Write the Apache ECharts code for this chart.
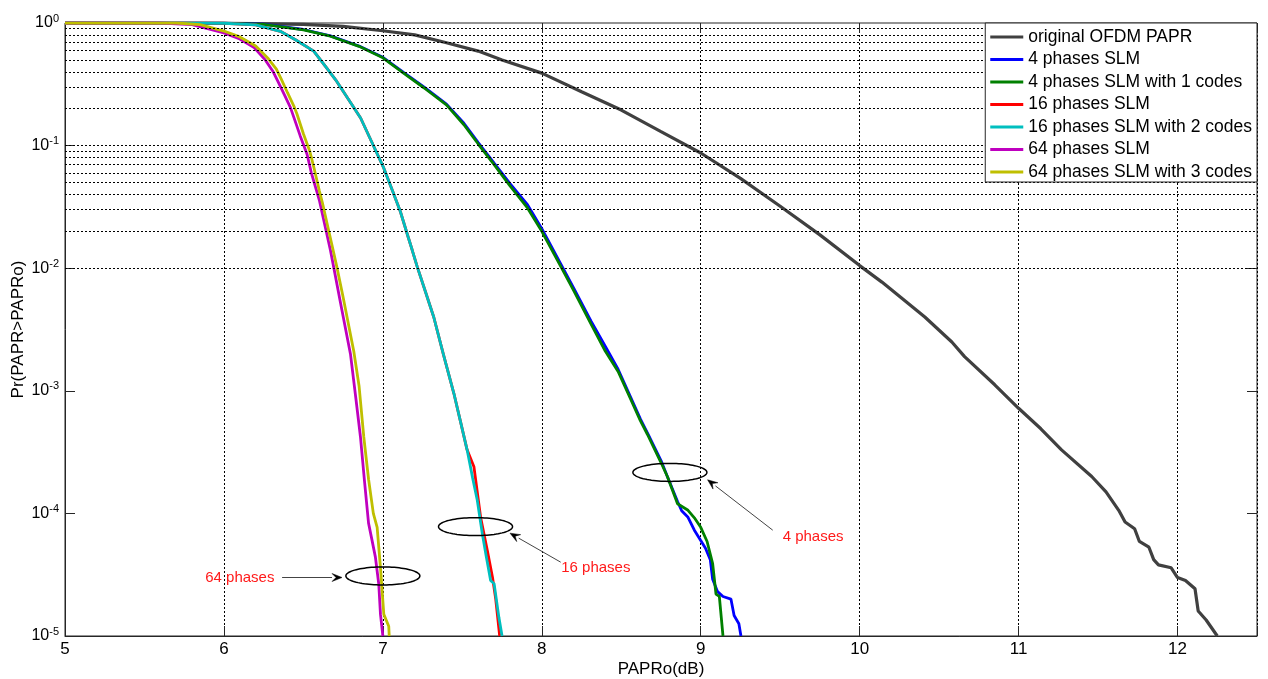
<!DOCTYPE html>
<html>
<head>
<meta charset="utf-8">
<script src="https://cdn.jsdelivr.net/npm/echarts@6/dist/echarts.min.js"></script>
<style>
html,body{margin:0;padding:0;background:#fff;}
#chart{width:1268px;height:679px;}
</style>
</head>
<body>
<div id="chart"></div>
<script>
// ---------- DATA ----------
const seriesNames = [
  'original OFDM PAPR',
  '4 phases SLM',
  '4 phases SLM with 1 codes',
  '16 phases SLM',
  '16 phases SLM with 2 codes',
  '64 phases SLM',
  '64 phases SLM with 3 codes'
];
const seriesColors = ['#404040', '#0000ff', '#008000', '#ff0000', '#00bfbf', '#bf00bf', '#bfbf00'];

const xTicks = [5, 6, 7, 8, 9, 10, 11, 12];
const yDecadeExponents = [-5, -4, -3, -2, -1, 0];
const yGridMantissas = [1, 2, 3, 4, 5, 6, 7, 8, 9];

const originalOFDM = [
  [5,1],[6,0.998],[6.5,0.975],[6.75,0.94],[7.0,0.865],[7.2,0.80],[7.4,0.69],[7.6,0.59],
  [7.75,0.50],[8.0,0.39],[8.25,0.275],[8.5,0.195],[8.75,0.13],[9.0,0.087],[9.25,0.054],
  [9.5,0.032],[9.75,0.0187],[10.0,0.0105],[10.14,0.0077],[10.41,0.0040],[10.58,0.0025],
  [10.66,0.0019],[10.85,0.00112],[11.0,0.00072],[11.14,0.00049],[11.27,0.00033],
  [11.46,0.0002],[11.55,0.00015],[11.63,0.000106],[11.67,0.000085],[11.73,0.000075],
  [11.76,0.000059],[11.82,0.000053],[11.85,0.000042],[11.88,0.000038],[11.96,0.000036],
  [12.0,0.00003],[12.05,0.0000284],[12.11,0.0000243],[12.13,0.000016],[12.18,0.0000135],
  [12.25,0.00001]
];
const fourPhases = [
  [5,1],[6,0.998],[6.25,0.978],[6.5,0.885],[6.67,0.785],[6.85,0.648],[7.0,0.525],[7.13,0.395],
  [7.26,0.30],[7.4,0.218],[7.51,0.152],[7.6,0.106],[7.70,0.072],[7.8,0.049],[7.91,0.033],
  [8.0,0.021],[8.12,0.0108],[8.2,0.0069],[8.31,0.0037],[8.4,0.0023],[8.48,0.0015],
  [8.56,0.00088],[8.62,0.00059],[8.67,0.00044],[8.75,0.00027],[8.79,0.00020],[8.854,0.000125],
  [8.88,0.000105],[8.92,0.000093],[8.96,0.000073],[9.0,0.00006],[9.03,0.000052],[9.06,0.000042],
  [9.075,0.000029],[9.106,0.000023],[9.14,0.000021],[9.19,0.00002],[9.21,0.0000147],
  [9.24,0.0000126],[9.253,0.00001]
];
const fourPhases1Code = [
  [5,1],[6,0.998],[6.25,0.975],[6.5,0.88],[6.67,0.78],[6.85,0.645],[7.0,0.52],[7.13,0.39],
  [7.26,0.295],[7.4,0.215],[7.51,0.148],[7.6,0.103],[7.70,0.07],[7.8,0.047],[7.91,0.031],
  [8.0,0.020],[8.12,0.0103],[8.2,0.0066],[8.31,0.0035],[8.4,0.0021],[8.48,0.00144],
  [8.56,0.00085],[8.62,0.00057],[8.665,0.00044],[8.75,0.00026],[8.79,0.0002],[8.854,0.00012],
  [8.92,0.000106],[8.96,0.000092],[9.0,0.000077],[9.04,0.000059],[9.075,0.000039],
  [9.096,0.000022],[9.117,0.000021],[9.14,0.00001]
];
const sixteenPhases = [
  [5,1],[5.75,1],[6.0,0.995],[6.2,0.965],[6.355,0.855],[6.45,0.73],[6.565,0.59],[6.64,0.44],
  [6.71,0.334],[6.78,0.242],[6.86,0.168],[6.93,0.107],[7.006,0.0655],[7.06,0.043],[7.11,0.029],
  [7.16,0.0178],[7.185,0.014],[7.216,0.0103],[7.27,0.0063],[7.32,0.004],[7.38,0.002],
  [7.447,0.00095],[7.49,0.00055],[7.53,0.00033],[7.573,0.00024],[7.615,0.000093],
  [7.657,0.00005],[7.69,0.00003],[7.71,0.00002],[7.735,0.00001]
];
const sixteenPhases2Codes = [
  [5,1],[5.75,1],[6.0,0.995],[6.2,0.965],[6.355,0.855],[6.45,0.73],[6.565,0.59],[6.64,0.44],
  [6.71,0.334],[6.78,0.242],[6.86,0.168],[6.93,0.107],[7.006,0.0655],[7.06,0.043],[7.11,0.029],
  [7.16,0.0178],[7.185,0.014],[7.216,0.0103],[7.27,0.0063],[7.32,0.004],[7.38,0.002],
  [7.447,0.00095],[7.49,0.00055],[7.53,0.00033],[7.565,0.000194],[7.594,0.000128],
  [7.626,0.000068],[7.65,0.000045],[7.678,0.0000284],[7.70,0.0000267],[7.73,0.0000142],
  [7.75,0.00001]
];
const sixtyFourPhases = [
  [5,1],[5.6,1],[5.8,0.97],[6.0,0.83],[6.1,0.74],[6.19,0.63],[6.26,0.50],[6.31,0.40],
  [6.342,0.33],[6.38,0.26],[6.418,0.205],[6.44,0.17],[6.48,0.12],[6.523,0.085],[6.55,0.06],
  [6.6,0.036],[6.64,0.021],[6.67,0.014],[6.69,0.0103],[6.73,0.0055],[6.796,0.002],
  [6.83,0.00087],[6.859,0.00042],[6.885,0.00018],[6.91,0.000083],[6.93,0.000062],
  [6.953,0.000044],[6.974,0.0000267],[6.985,0.000015],[7.0,0.00001]
];
const sixtyFourPhases3Codes = [
  [5,1],[5.7,1],[5.85,0.97],[6.0,0.86],[6.1,0.77],[6.2,0.65],[6.28,0.51],[6.33,0.42],
  [6.36,0.35],[6.4,0.27],[6.44,0.21],[6.46,0.18],[6.5,0.125],[6.54,0.09],[6.57,0.063],
  [6.6,0.043],[6.62,0.034],[6.66,0.02],[6.69,0.0135],[6.71,0.0103],[6.75,0.0058],
  [6.817,0.0021],[6.85,0.0011],[6.88,0.00042],[6.91,0.00019],[6.94,0.0001],[6.964,0.000077],
  [6.985,0.000036],[7.006,0.000015],[7.037,0.000012],[7.04,0.00001]
];
const seriesData = [originalOFDM, fourPhases, fourPhases1Code, sixteenPhases, sixteenPhases2Codes, sixtyFourPhases, sixtyFourPhases3Codes];

// annotation anchors (data coordinates)
const annotationLabels = ['4 phases', '16 phases', '64 phases'];
const annotationEllipseCenters = [[8.806, 2.16e-4], [7.583, 7.8e-5], [7.0, 3.09e-5]];
const annotationArrowFrom = [[9.453, 7.3e-5], [8.119, 4.0e-5], [6.366, 3.0e-5]];
const annotationArrowTo = [[9.043, 1.88e-4], [7.80, 6.9e-5], [6.743, 3.0e-5]];
const annotationTextAt = [[9.707, 6.4e-5], [8.34, 3.6e-5], [6.10, 3.0e-5]];

// ---------- CHART ----------
const FONT = '"Liberation Sans", Arial, Helvetica, sans-serif';
const chart = echarts.init(document.getElementById('chart'), null, {renderer: 'canvas'});

const gridValues = [];
yDecadeExponents.slice(0, -1).forEach(e => {
  yGridMantissas.forEach(m => gridValues.push(parseFloat((m * Math.pow(10, e)).toPrecision(6))));
});

const series = [{
  name: '__grid',
  type: 'line',
  data: [[5, 1]],
  showSymbol: false,
  silent: true,
  z: 1,
  lineStyle: {width: 0},
  markLine: {
    silent: true,
    symbol: ['none', 'none'],
    animation: false,
    label: {show: false},
    lineStyle: {type: [2, 2], color: '#000', width: 1},
    emphasis: {disabled: true},
    data: gridValues.map(v => ({yAxis: v}))
  }
}];
seriesNames.forEach((n, i) => {
  series.push({
    name: n,
    type: 'line',
    data: seriesData[i],
    showSymbol: false,
    smooth: false,
    z: 3,
    lineStyle: {color: seriesColors[i], width: i === 0 ? 3.2 : 2.8},
    itemStyle: {color: seriesColors[i]},
    emphasis: {disabled: true}
  });
});

const option = {
  animation: false,
  backgroundColor: '#fff',
  grid: {left: 65, right: 11, top: 23, bottom: 43, show: true, borderColor: '#262626', borderWidth: 1,
         containLabel: false, outerBoundsMode: 'none'},
  legend: {
    data: seriesNames,
    orient: 'vertical',
    right: 11,
    top: 23,
    z: 50,
    backgroundColor: '#fff',
    borderColor: '#262626',
    borderWidth: 1,
    padding: [5, 5, 1, 5],
    itemWidth: 33,
    itemHeight: 3,
    itemGap: 4.5,
    icon: 'rect',
    selectedMode: false,
    textStyle: {fontFamily: FONT, fontSize: 17.5, color: '#000', lineHeight: 18}
  },
  xAxis: [{
    type: 'value',
    min: 5,
    max: 12.5,
    interval: 1,
    name: 'PAPRo(dB)',
    nameLocation: 'middle',
    nameGap: 25,
    nameMoveOverlap: false,
    nameTextStyle: {fontFamily: FONT, fontSize: 17, color: '#000'},
    axisLine: {show: true, lineStyle: {color: '#262626'}},
    axisTick: {show: true, inside: true, length: 10, lineStyle: {color: '#262626'}},
    axisLabel: {
      fontFamily: FONT, fontSize: 17, color: '#000', margin: 5,
      formatter: v => (xTicks.indexOf(v) >= 0 ? String(v) : '')
    },
    splitLine: {show: true, lineStyle: {type: [2, 2], color: '#000', width: 1}}
  }, {
    type: 'value',
    position: 'top',
    min: 5,
    max: 12.5,
    interval: 1,
    axisLine: {show: false},
    axisTick: {show: true, inside: true, length: 10, lineStyle: {color: '#262626'}},
    axisLabel: {show: false},
    splitLine: {show: false}
  }],
  yAxis: [{
    type: 'log',
    logBase: 10,
    min: 1e-5,
    max: 1,
    name: 'Pr(PAPR>PAPRo)',
    nameLocation: 'middle',
    nameGap: 38,
    nameMoveOverlap: false,
    nameTextStyle: {fontFamily: FONT, fontSize: 17, color: '#000'},
    axisLine: {show: true, lineStyle: {color: '#262626'}},
    axisTick: {show: true, inside: true, length: 10, lineStyle: {color: '#262626'}},
    splitLine: {show: false},
    axisLabel: {
      margin: 6,
      formatter: v => '{b|10}{s|' + Math.round(Math.log10(v)) + '}',
      rich: {
        b: {fontFamily: FONT, fontSize: 16, color: '#000', lineHeight: 20, verticalAlign: 'middle'},
        s: {fontFamily: FONT, fontSize: 11, color: '#000', lineHeight: 12, verticalAlign: 'top'}
      }
    }
  }, {
    type: 'log',
    logBase: 10,
    min: 1e-5,
    max: 1,
    position: 'right',
    axisLine: {show: false},
    axisTick: {show: true, inside: true, length: 10, lineStyle: {color: '#262626'}},
    axisLabel: {show: false},
    splitLine: {show: false}
  }],
  series: series
};
chart.setOption(option);

// ---------- ANNOTATIONS ----------
function toPx(p) { return chart.convertToPixel({xAxisIndex: 0, yAxisIndex: 0}, p); }
const graphics = [];
annotationLabels.forEach((label, i) => {
  const c = toPx(annotationEllipseCenters[i]);
  const pts = [];
  for (let k = 0; k < 90; k++) {
    const t = k / 90 * 2 * Math.PI;
    pts.push([c[0] + 37 * Math.cos(t), c[1] + 9 * Math.sin(t)]);
  }
  graphics.push({type: 'polygon', shape: {points: pts}, style: {fill: 'none', stroke: '#000', lineWidth: 1.5}, z: 100, silent: true});
  const f = toPx(annotationArrowFrom[i]);
  const t = toPx(annotationArrowTo[i]);
  const ang = Math.atan2(t[1] - f[1], t[0] - f[0]);
  const L = 10, W = 4;
  const bx = t[0] - L * Math.cos(ang), by = t[1] - L * Math.sin(ang);
  graphics.push({type: 'line', shape: {x1: f[0], y1: f[1], x2: bx, y2: by}, style: {stroke: '#444', lineWidth: 1}, z: 100, silent: true});
  graphics.push({type: 'polygon', shape: {points: [
    [t[0], t[1]],
    [bx - W * Math.sin(ang), by + W * Math.cos(ang)],
    [t[0] - 0.6 * L * Math.cos(ang), t[1] - 0.6 * L * Math.sin(ang)],
    [bx + W * Math.sin(ang), by - W * Math.cos(ang)]
  ]}, style: {fill: '#000', stroke: '#000', lineWidth: 0.5}, z: 100, silent: true});
  const tp = toPx(annotationTextAt[i]);
  graphics.push({type: 'text', x: tp[0], y: tp[1], style: {text: label, fill: '#ff1a1a', fontFamily: FONT, fontSize: 15, align: 'center', verticalAlign: 'middle'}, z: 100, silent: true});
});
chart.setOption({graphic: graphics});
</script>
</body>
</html>
